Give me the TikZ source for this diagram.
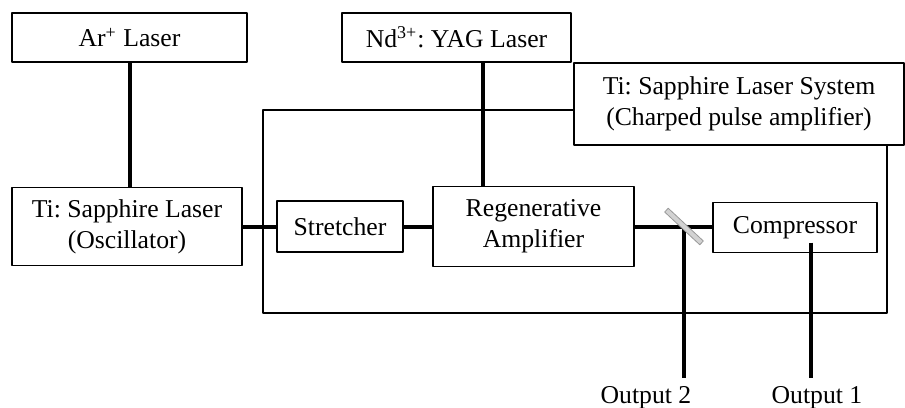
\documentclass[tikz,border=0pt]{standalone}
\usepackage{fontspec}
\setmainfont{Liberation Serif}
\frenchspacing
\begin{document}
\begin{tikzpicture}[x=0.5pt,y=-0.5pt, line join=round,
  font=\fontsize{12.85}{15.5}\selectfont,
  blk/.style={draw, line width=0.75pt, inner sep=0pt, align=center},
  beam/.style={line width=2pt},
  mirror/.style={draw=gray!80, fill=gray!35, line width=0.4pt, inner sep=0pt,
    minimum width=24pt, minimum height=2.6pt, rotate=-43}]
  \useasboundingbox (0,0) rectangle (905,407);
  % pump lasers
  \node[blk, minimum width=117.5pt, minimum height=24.5pt] (ar) at (129.5,37.5) {Ar\textsuperscript{+} Laser};
  \node[blk, minimum width=114.5pt, minimum height=24.5pt] (nd) at (456.5,37.5) {Nd\textsuperscript{3+}: YAG Laser};
  \node[blk, minimum width=115pt, minimum height=39pt] (osc) at (127,226.5) {Ti: Sapphire Laser\\(Oscillator)};
  % amplifier system
  \node[blk, minimum width=312pt, minimum height=101.5pt] (sys) at (575,211.5) {};
  \node[blk, fill=white, minimum width=165pt, minimum height=41pt] (syslbl) at (739,104) {Ti: Sapphire Laser System\\(Charped pulse amplifier)};
  \node[blk, minimum width=63pt, minimum height=25.5pt] (st) at (340,226.5) {Stretcher};
  \node[blk, minimum width=100.5pt, minimum height=40pt] (regen) at (533.5,226.5) {Regenerative\\Amplifier};
  \node[blk, minimum width=82pt, minimum height=25pt] (comp) at (795,227.5) {Compressor};
  \coordinate (m) at (684,226.5);
  \coordinate (out2) at (684,378);
  \coordinate (out1) at (811,378);
  \node[anchor=base] (o2) at (646,403) {Output 2};
  \node[anchor=base] (o1) at (817,403) {Output 1};
  % beams
  \draw[beam] (ar.south) -- (ar.south |- osc.north);
  \draw[beam] ([xshift=13.25pt]nd.south) -- ([xshift=13.25pt]nd.south |- regen.north);
  \draw[beam] (osc.east) -- (st.west);
  \draw[beam] (st.east) -- (st.east -| regen.west);
  \draw[beam] (regen.east) -- (regen.east -| comp.west);
  \draw[beam] (m) -- (out2);
  \draw[beam] ([xshift=8pt,yshift=-7.5pt]comp.center) -- (out1);
  \node[mirror] (mir) at (m) {};
\end{tikzpicture}
\end{document}
